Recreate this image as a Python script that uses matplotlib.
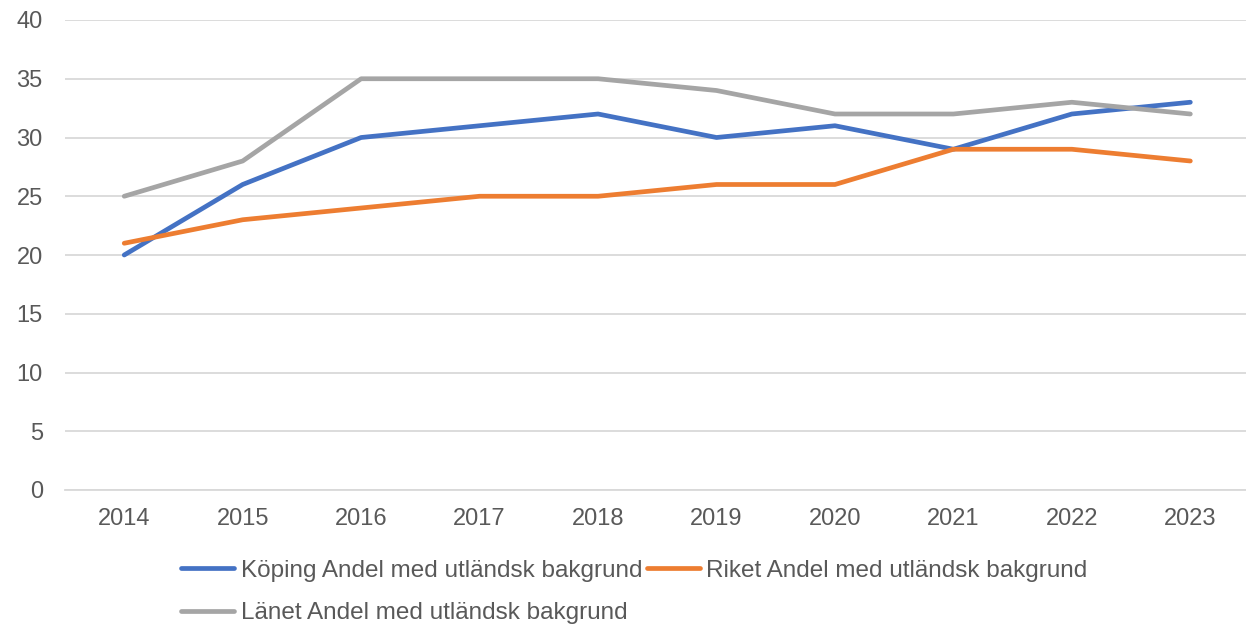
import matplotlib
matplotlib.use('Agg')
import matplotlib.pyplot as plt
import numpy as np

years = ['2014', '2015', '2016', '2017', '2018', '2019', '2020', '2021', '2022', '2023']
koping = [20, 26, 30, 31, 32, 30, 31, 29, 32, 33]
riket = [21, 23, 24, 25, 25, 26, 26, 29, 29, 28]
lanet = [25, 28, 35, 35, 35, 34, 32, 32, 33, 32]
yticks = [0, 5, 10, 15, 20, 25, 30, 35, 40]

plt.rcParams['font.family'] = ['Liberation Sans', 'DejaVu Sans']
txt = '#595959'

fig = plt.figure(figsize=(12.46, 6.27), dpi=100)
ax = fig.add_axes([65/1246, 1-490/627, 1-65/1246, (490-20)/627])

x = np.arange(len(years))
l1, = ax.plot(x, koping, color='#4472C4', lw=3.4, solid_capstyle='round', label='Köping Andel med utländsk bakgrund')
l2, = ax.plot(x, riket, color='#ED7D31', lw=3.4, solid_capstyle='round', label='Riket Andel med utländsk bakgrund')
l3, = ax.plot(x, lanet, color='#A5A5A5', lw=3.4, solid_capstyle='round', label='Länet Andel med utländsk bakgrund')

ax.set_xlim(-0.5, 9.47)
ax.set_ylim(0, 40)
ax.set_yticks(yticks)
ax.set_xticks(x)
ax.set_xticklabels(years)
ax.yaxis.grid(True, color='#D9D9D9', lw=1.3)
ax.set_axisbelow(True)
for s in ['top', 'right', 'left']:
    ax.spines[s].set_visible(False)
ax.spines['bottom'].set_color('#D9D9D9')
ax.spines['bottom'].set_linewidth(1.3)
ax.tick_params(axis='both', length=0, labelsize=17, colors=txt)
ax.tick_params(axis='y', pad=16)
ax.tick_params(axis='x', pad=13)

fig.legend(handles=[l1, l3, l2], ncol=2, frameon=False, loc='center left',
           bbox_to_anchor=(181/1246, 1-592/627), borderpad=0, borderaxespad=0,
           fontsize=17.5, labelcolor=txt, handlelength=2.2, handletextpad=0.25,
           columnspacing=0.2, labelspacing=0.85)

fig.savefig('out.png', dpi=100)
